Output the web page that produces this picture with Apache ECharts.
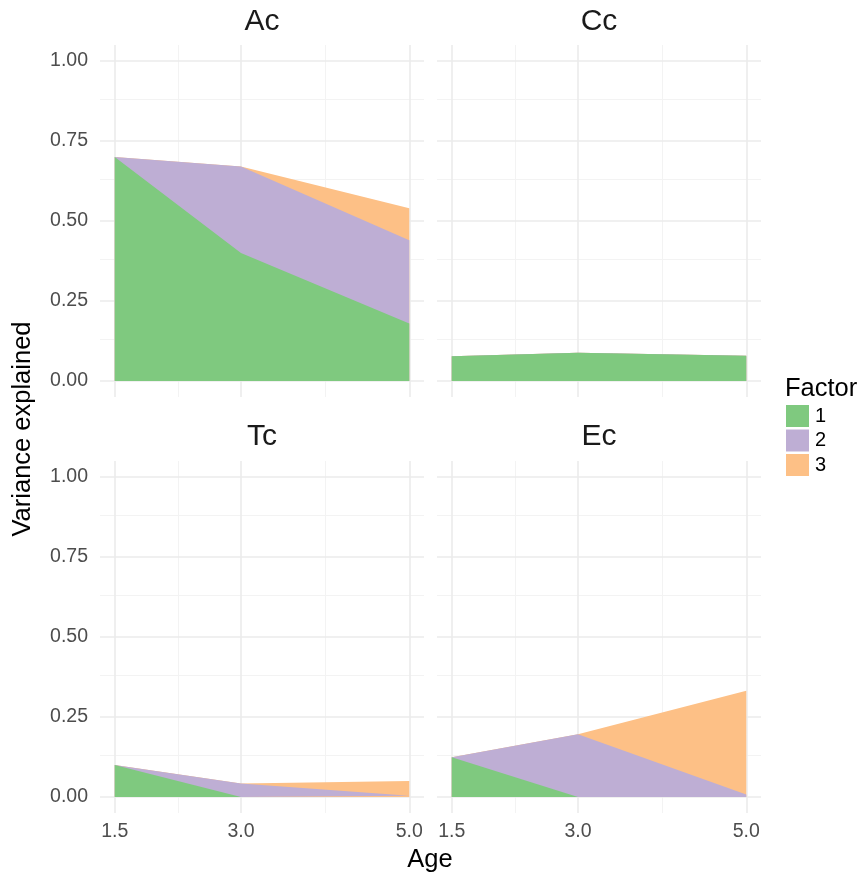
<!DOCTYPE html>
<html><head><meta charset="utf-8">
<script src="https://cdn.jsdelivr.net/npm/echarts@6/dist/echarts.min.js"></script>
<style>html,body{margin:0;padding:0;background:#fff}#c{width:865px;height:881px}</style>
</head><body><div id="c"></div>
<script>
const ages = [1.5, 3.0, 5.0];
const panels = ['Ac', 'Cc', 'Tc', 'Ec'];
const factors = ['1', '2', '3'];
const Ac1 = [0.70, 0.40, 0.18], Ac2 = [0.00, 0.27, 0.26], Ac3 = [0.00, 0.00, 0.10];
const Cc1 = [0.077, 0.088, 0.079], Cc2 = [0, 0, 0], Cc3 = [0, 0, 0];
const Tc1 = [0.10, 0.00, 0.00], Tc2 = [0.00, 0.042, 0.004], Tc3 = [0.00, 0.00, 0.046];
const Ec1 = [0.124, 0.00, 0.00], Ec2 = [0.00, 0.196, 0.008], Ec3 = [0.00, 0.00, 0.324];
const xMajor = [1.5, 3.0, 5.0], xMinor = [2.25, 4.0];
const yMajor = [0, 0.25, 0.5, 0.75, 1.0], yMinor = [0.125, 0.375, 0.625, 0.875];
const colors = ['#7fc97f', '#beaed4', '#fdc086'];
const panelData = [[Ac1, Ac2, Ac3], [Cc1, Cc2, Cc3], [Tc1, Tc2, Tc3], [Ec1, Ec2, Ec3]];

const FONT = 'Liberation Sans, Arial, sans-serif';
const lefts = [100, 437], tops = [45, 461], W = 324, H = 352;
const grids = [], xAxes = [], yAxes = [], series = [], graphics = [];
panels.forEach((p, i) => {
  const col = i % 2, row = Math.floor(i / 2);
  grids.push({left: lefts[col], top: tops[row], width: W, height: H});
  xAxes.push({type: 'value', gridIndex: i, min: 1.325, max: 5.175,
    axisLine: {show: false}, axisTick: {show: false}, splitLine: {show: false},
    axisLabel: {show: row === 1, customValues: xMajor, formatter: v => v.toFixed(1),
      color: '#4d4d4d', fontSize: 19.5, fontFamily: FONT, margin: 9}});
  yAxes.push({type: 'value', gridIndex: i, min: -0.05, max: 1.05,
    axisLine: {show: false}, axisTick: {show: false}, splitLine: {show: false},
    axisLabel: {show: col === 0, customValues: yMajor, formatter: v => v.toFixed(2),
      color: '#4d4d4d', fontSize: 19.5, fontFamily: FONT, margin: 12}});
  const ml = [];
  const minorStyle = {color: '#f3f3f3', width: 1, type: 'solid'};
  const majorStyle = {color: '#ebebeb', width: 1.6, type: 'solid'};
  xMinor.forEach(v => ml.push({xAxis: v, lineStyle: minorStyle}));
  yMinor.forEach(v => ml.push({yAxis: v, lineStyle: minorStyle}));
  xMajor.forEach(v => ml.push({xAxis: v, lineStyle: majorStyle}));
  yMajor.forEach(v => ml.push({yAxis: v, lineStyle: majorStyle}));
  series.push({type: 'line', xAxisIndex: i, yAxisIndex: i, data: [], z: 1, silent: true,
    markLine: {z: 1, silent: true, symbol: ['none', 'none'], label: {show: false},
      lineStyle: {type: 'solid'}, animation: false, emphasis: {disabled: true}, data: ml}});
  // cumulative stacking: factor k area spans from cumulative(k-1) to cumulative(k);
  // drawn as opaque areas to zero, top-most cumulative first.
  const cum = [];
  factors.forEach((f, k) => {
    cum.push(ages.map((a, j) => {
      let s = 0;
      for (let m = 0; m <= k; m++) s += panelData[i][m][j];
      return s;
    }));
  });
  factors.forEach((f, k) => {
    series.push({name: f, type: 'line', xAxisIndex: i, yAxisIndex: i,
      z: 4 - k, symbol: 'none', lineStyle: {width: 0}, color: colors[k],
      areaStyle: {color: colors[k], opacity: 1, origin: 0},
      data: ages.map((a, j) => [a, cum[k][j]])});
  });
  graphics.push({type: 'text', x: lefts[col] + W / 2, y: row === 0 ? 22 : 437,
    style: {text: p, fontSize: 30, fontFamily: FONT, fill: '#1a1a1a', align: 'center', verticalAlign: 'middle'}});
});
graphics.push({type: 'text', x: 430, y: 860,
  style: {text: 'Age', fontSize: 25.5, fontFamily: FONT, fill: '#000', align: 'center', verticalAlign: 'middle'}});
graphics.push({type: 'text', x: 23, y: 429, rotation: Math.PI / 2,
  style: {text: 'Variance explained', fontSize: 25.5, fontFamily: FONT, fill: '#000', align: 'center', verticalAlign: 'middle'}});
graphics.push({type: 'text', x: 785, y: 389,
  style: {text: 'Factor', fontSize: 25.5, fontFamily: FONT, fill: '#000', align: 'left', verticalAlign: 'middle'}});

const chart = echarts.init(document.getElementById('c'), null, {renderer: 'canvas'});
chart.setOption({
  animation: false,
  grid: grids, xAxis: xAxes, yAxis: yAxes, series: series, graphic: graphics,
  legend: {data: factors, left: 786, top: 405, orient: 'vertical', icon: 'rect',
    itemWidth: 23, itemHeight: 22, itemGap: 2.5, selectedMode: false,
    textStyle: {fontSize: 20, fontFamily: FONT, color: '#000', padding: [0, 0, 0, 1]}, padding: 0}
});
</script></body></html>
